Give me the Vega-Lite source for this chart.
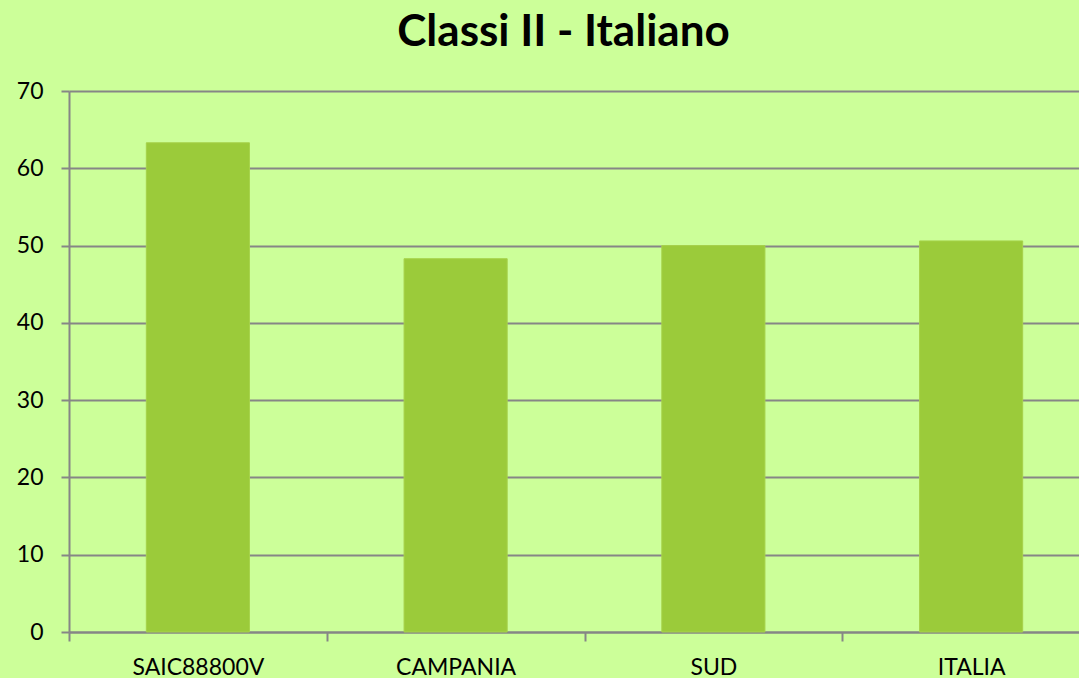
{
  "$schema": "https://vega.github.io/schema/vega-lite/v6.json",
  "autosize": "none",
  "padding": {"left": 69, "top": 91, "right": 0, "bottom": 46},
  "width": 1031,
  "height": 541,
  "background": "#CCFF99",
  "title": {
    "text": "Classi II - Italiano",
    "font": "Lato",
    "fontSize": 44,
    "fontWeight": "bold",
    "color": "#000000",
    "anchor": "middle",
    "dx": -21,
    "baseline": "alphabetic",
    "offset": -10
  },
  "data": {
    "values": [
      {"area": "SAIC88800V", "value": 63.3},
      {"area": "CAMPANIA", "value": 48.3},
      {"area": "SUD", "value": 50.0},
      {"area": "ITALIA", "value": 50.6}
    ]
  },
  "mark": {"type": "bar", "width": {"band": 0.4}, "color": "#9BCB3A", "stroke": "#A6D24A", "strokeWidth": 1},
  "encoding": {
    "x": {
      "field": "area",
      "type": "nominal",
      "sort": null,
      "scale": {"paddingInner": 0, "paddingOuter": 0},
      "axis": {
        "title": null,
        "labelAngle": 0,
        "labelFont": "Lato",
        "labelFontSize": 23,
        "labelColor": "#000000",
        "tickBand": "extent",
        "tickSize": 9,
        "tickColor": "#868686",
        "tickWidth": 2,
        "domainColor": "#868686",
        "domainWidth": 2,
        "labelPadding": 15,
        "grid": false
      }
    },
    "y": {
      "field": "value",
      "type": "quantitative",
      "scale": {"domain": [0, 70], "nice": false},
      "axis": {
        "title": null,
        "values": [0, 10, 20, 30, 40, 50, 60, 70],
        "labelFont": "Lato",
        "labelFontSize": 23,
        "labelColor": "#000000",
        "tickSize": 8,
        "tickColor": "#868686",
        "tickWidth": 2,
        "domainColor": "#868686",
        "domainWidth": 2,
        "gridColor": "#868686",
        "gridWidth": 2,
        "gridOpacity": 1,
        "labelPadding": 18
      }
    }
  },
  "config": {
    "view": {"stroke": null}
  }
}
